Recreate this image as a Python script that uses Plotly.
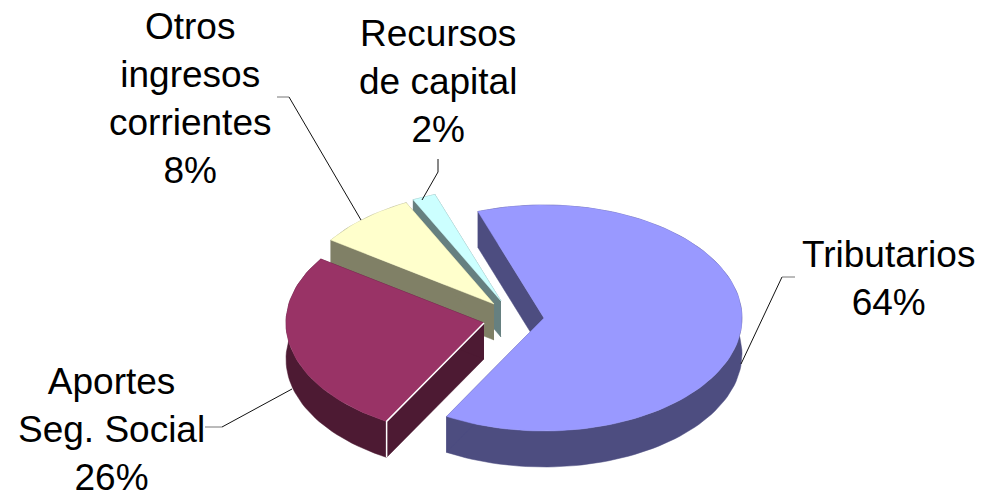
import numpy as np
import plotly.graph_objects as go

# Data
categories = ["Tributarios", "Aportes<br>Seg. Social", "Otros<br>ingresos<br>corrientes", "Recursos<br>de capital"]
values = [63.6, 26.4, 8.1, 1.9]

# Style / projection
top_colors = ["#9999FF", "#993366", "#FFFFCC", "#CCFFFF"]
side_colors = ["#4D4D80", "#4D1A33", "#808066", "#668080"]
apex = [(544, 318), (484, 323), (494, 304), (501, 301)]
label_pos = [(888, 278.5), (111, 429.5), (190, 98), (438, 81.5)]
leaders = [
    [(782, 277), (741, 364)],
    [(222, 427), (292, 389)],
    [(289, 97), (361, 220)],
    [(438, 159), (438, 172), (422, 200)],
]
leader_stubs = [
    [(795, 277), (782, 277)],
    [(205, 427), (222, 427)],
    [(277, 97), (289, 97)],
    [],
]
RX, RY, DEPTH = 198, 113, 36
START = -19.5
draw_order = [0, 3, 2, 1]

W, H = 993, 493
fig = go.Figure()


def poly(xs, ys, color):
    fig.add_trace(go.Scatter(x=xs, y=ys, mode="lines", fill="toself", fillcolor=color,
                             line=dict(color=color, width=0.5), hoverinfo="skip", showlegend=False))


edges = START + np.cumsum([0] + [v * 3.6 for v in values])
for i in draw_order:
    cx, cy = apex[i]
    t = np.radians(np.linspace(edges[i], edges[i + 1], max(3, int((edges[i + 1] - edges[i]) / 2))))
    rx = cx + RX * np.sin(t)
    ry = cy - RY * np.cos(t)
    # outer rim wall
    poly(list(rx) + list(rx[::-1]), list(ry) + list(ry[::-1] + DEPTH), side_colors[i])
    # cut walls
    for k in (0, -1):
        poly([cx, rx[k], rx[k], cx], [cy, ry[k], ry[k] + DEPTH, cy + DEPTH], side_colors[i])
    # top face
    poly([cx] + list(rx) + [cx], [cy] + list(ry) + [cy], top_colors[i])
    if i == 1:  # white highlight on the near corner of this slice
        fig.add_trace(go.Scatter(x=[cx, rx[0], rx[0]], y=[cy, ry[0], ry[0] + DEPTH], mode="lines",
                                 line=dict(color="#FFFFFF", width=1.5), hoverinfo="skip", showlegend=False))

for pts in leaders:
    fig.add_trace(go.Scatter(x=[p[0] for p in pts], y=[p[1] for p in pts], mode="lines",
                             line=dict(color="#111111", width=1), hoverinfo="skip", showlegend=False))
for pts in leader_stubs:
    if pts:
        fig.add_trace(go.Scatter(x=[p[0] for p in pts], y=[p[1] for p in pts], mode="lines",
                                 line=dict(color="#777777", width=1), hoverinfo="skip", showlegend=False))

for name, v, (x, y) in zip(categories, values, label_pos):
    fig.add_annotation(x=x, y=y, text=f"{name}<br>{round(v)}%", showarrow=False, xanchor="center", yanchor="middle",
                       align="center", font=dict(family="Liberation Sans, Arial, sans-serif", size=37, color="#000000"))

fig.update_layout(width=W, height=H, margin=dict(l=0, r=0, t=0, b=0), paper_bgcolor="#FFFFFF",
                  plot_bgcolor="#FFFFFF", showlegend=False,
                  xaxis=dict(range=[0, W], visible=False, fixedrange=True),
                  yaxis=dict(range=[H, 0], visible=False, fixedrange=True))
fig.write_html("out.html", config={"displayModeBar": False},
               post_script="document.body.style.margin='0';document.body.style.overflow='hidden';")
